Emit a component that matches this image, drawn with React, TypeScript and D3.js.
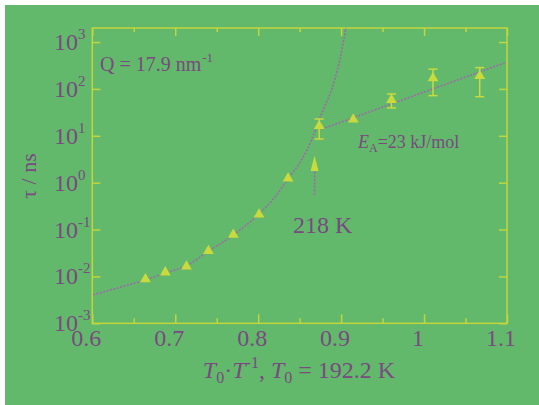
import React, { useEffect, useRef } from 'react';
import * as d3 from 'd3';

// measured points (T0/T, tau in ns)
const pointX = [0.664, 0.688, 0.7135, 0.74, 0.77, 0.801, 0.836, 0.8735, 0.9147, 0.9607, 1.0108, 1.0671];
const pointY = [0.0087, 0.01225, 0.0163, 0.0351, 0.0778, 0.21, 1.236, 16.2, 22.3, 58.2, 169, 190];
// error bars (index into points, low, high)
const errIndex = [7, 9, 10, 11];
const errLow = [8.55, 39.3, 71.9, 68.4];
const errHigh = [22.9, 78.2, 264, 285];

// VFT fit curve
const vftX = [0.601, 0.6334, 0.6643, 0.6876, 0.7135, 0.7394, 0.7695, 0.8008, 0.8201, 0.8358, 0.8542, 0.8643, 0.8704, 0.8783, 0.8884, 0.8984, 0.9057];
const vftY = [0.00406, 0.00587, 0.0085, 0.0117, 0.0169, 0.0337, 0.0759, 0.213, 0.492, 1.19, 3.52, 8.13, 15.4, 35.6, 95.2, 417, 2010];

// Arrhenius line
const arrX = [0.877, 1.0972];
const arrY = [13.97, 359.6];

// arrow marking 218 K
const arrowX = 0.868;
const arrowTail = 0.55;
const arrowBase = 1.77;
const arrowTip = 3.76;

const xTicks = [0.6, 0.7, 0.8, 0.9, 1, 1.1];
const xTickLabels = ['0.6', '0.7', '0.8', '0.9', '1', '1.1'];
const xMinor = [0.65, 0.75, 0.85, 0.95, 1.05];
const yExps = [-3, -2, -1, 0, 1, 2, 3];

const BG = '#62b96b';
const AXIS = '#c3d53c';
const MARK = '#c9da3c';
const LINE = '#a068aa';
const TEXT = '#7a4a80';
const FONT = '"Liberation Serif", "DejaVu Serif", serif';

const App = () => {
  const ref = useRef<SVGSVGElement>(null);

  useEffect(() => {
    const svg = d3.select(ref.current);
    svg.selectAll('*').remove();

    const x = d3.scaleLinear().domain([0.6, 1.1]).range([92.3, 507]);
    const y = d3.scaleLog().domain([1e-3, Math.pow(10, 3.3)]).range([323.3, 28]);
    const [x0, x1] = x.range();
    const [y0, y1] = y.range();

    svg.append('rect').attr('width', 539).attr('height', 405).attr('fill', '#fff');
    svg.append('rect').attr('x', 5).attr('y', 5).attr('width', 534).attr('height', 400).attr('fill', BG);

    const g = svg.append('g');

    // ticks
    const bottomMaj = d3.axisBottom(x).tickValues(xTicks).tickSize(-9).tickFormat(() => '');
    const bottomMin = d3.axisBottom(x).tickValues(xMinor).tickSize(-5).tickFormat(() => '');
    const topMaj = d3.axisTop(x).tickValues(xTicks).tickSize(-8).tickFormat(() => '');
    const topMin = d3.axisTop(x).tickValues(xMinor).tickSize(-4).tickFormat(() => '');
    const yVals = yExps.map(e => Math.pow(10, e));
    const left = d3.axisLeft(y).tickValues(yVals).tickSize(-8).tickFormat(() => '');
    const right = d3.axisRight(y).tickValues(yVals).tickSize(-8).tickFormat(() => '');

    const put = (axis: any, tx: number, ty: number) => {
      const a = g.append('g').attr('transform', `translate(${tx},${ty})`).call(axis);
      a.select('.domain').remove();
      a.selectAll('line').attr('stroke', AXIS).attr('stroke-width', 1.5);
    };
    put(bottomMaj, 0, y0);
    put(bottomMin, 0, y0);
    put(topMaj, 0, y1);
    put(topMin, 0, y1);
    put(left, x0, 0);
    put(right, x1, 0);

    g.append('rect')
      .attr('x', x0).attr('y', y1).attr('width', x1 - x0).attr('height', y0 - y1)
      .attr('fill', 'none').attr('stroke', AXIS).attr('stroke-width', 1.5);

    // x tick labels
    g.selectAll('.xl').data(xTicks).enter().append('text')
      .attr('x', d => x(d) - 6).attr('y', 346)
      .attr('text-anchor', 'middle').attr('font-family', FONT).attr('font-size', 24)
      .attr('fill', TEXT).text((d, i) => xTickLabels[i]);

    // y tick labels
    yExps.forEach(e => {
      const t = g.append('text').attr('x', 54).attr('y', y(Math.pow(10, e)) + 8)
        .attr('font-family', FONT).attr('font-size', 24).attr('fill', TEXT);
      t.append('tspan').text('10');
      t.append('tspan').attr('dx', 0).attr('dy', -11).attr('font-size', 15)
        .text(e < 0 ? '-' + Math.abs(e) : String(e));
    });

    // curves
    const line = d3.line<[number, number]>().x(d => x(d[0])).y(d => y(d[1])).curve(d3.curveMonotoneX);
    g.append('path').datum(vftX.map((v, i) => [v, vftY[i]] as [number, number]))
      .attr('d', line).attr('fill', 'none').attr('stroke', LINE)
      .attr('stroke-width', 1.6).attr('stroke-dasharray', '2 1.5');
    g.append('path').datum(arrX.map((v, i) => [v, arrY[i]] as [number, number]))
      .attr('d', d3.line<[number, number]>().x(d => x(d[0])).y(d => y(d[1])))
      .attr('fill', 'none').attr('stroke', LINE)
      .attr('stroke-width', 1.6).attr('stroke-dasharray', '2 1.5');

    // error bars
    errIndex.forEach((pi, k) => {
      const cx = x(pointX[pi]);
      const eb = g.append('g').attr('stroke', MARK).attr('stroke-width', 1.5);
      eb.append('line').attr('x1', cx).attr('x2', cx).attr('y1', y(errLow[k])).attr('y2', y(errHigh[k]));
      eb.append('line').attr('x1', cx - 4.5).attr('x2', cx + 4.5).attr('y1', y(errLow[k])).attr('y2', y(errLow[k]));
      eb.append('line').attr('x1', cx - 4.5).attr('x2', cx + 4.5).attr('y1', y(errHigh[k])).attr('y2', y(errHigh[k]));
    });

    // markers
    const tri = d3.symbol().type(d3.symbolTriangle).size(50);
    g.selectAll('.pt').data(pointX).enter().append('path')
      .attr('d', tri as any)
      .attr('transform', (d, i) => `translate(${x(d)},${y(pointY[i])})`)
      .attr('fill', MARK);

    // arrow
    const ax = x(arrowX);
    g.append('line').attr('x1', ax).attr('x2', ax).attr('y1', y(arrowTail)).attr('y2', y(arrowBase))
      .attr('stroke', LINE).attr('stroke-width', 1.6).attr('stroke-dasharray', '2 1.5');
    g.append('path')
      .attr('d', `M${ax},${y(arrowTip)}L${ax - 4},${y(arrowBase)}L${ax + 4},${y(arrowBase)}Z`)
      .attr('fill', MARK);

    // annotations
    const q = g.append('text').attr('x', 100).attr('y', 71)
      .attr('font-family', FONT).attr('font-size', 20).attr('fill', TEXT);
    q.append('tspan').text('Q = 17.9 nm');
    q.append('tspan').attr('dx', 1).attr('dy', -9).attr('font-size', 13).text('-1');

    const ea = g.append('text').attr('x', 358).attr('y', 148)
      .attr('font-family', FONT).attr('font-size', 18).attr('fill', TEXT);
    ea.append('tspan').attr('font-style', 'italic').text('E');
    ea.append('tspan').attr('dy', 4).attr('font-size', 12).text('A');
    ea.append('tspan').attr('dy', -4).text('=23 kJ/mol');

    g.append('text').attr('x', 293).attr('y', 233)
      .attr('font-family', FONT).attr('font-size', 24).attr('fill', TEXT).text('218 K');

    // axis titles
    const xt = g.append('text').attr('x', 299).attr('y', 378).attr('text-anchor', 'middle')
      .attr('font-family', FONT).attr('font-size', 24).attr('fill', TEXT);
    xt.append('tspan').attr('font-style', 'italic').text('T');
    xt.append('tspan').attr('dy', 5).attr('font-size', 16).text('0');
    xt.append('tspan').attr('dy', -5).text('·');
    xt.append('tspan').attr('font-style', 'italic').text('T');
    xt.append('tspan').attr('dy', -10).attr('font-size', 16).text('-1');
    xt.append('tspan').attr('dy', 10).text(', ');
    xt.append('tspan').attr('font-style', 'italic').text('T');
    xt.append('tspan').attr('dy', 5).attr('font-size', 16).text('0');
    xt.append('tspan').attr('dy', -5).text(' = 192.2 K');

    g.append('text').attr('transform', 'translate(36,176) rotate(-90)')
      .attr('text-anchor', 'middle').attr('font-family', FONT).attr('font-size', 22)
      .attr('fill', TEXT).text('τ / ns');
  }, []);

  return (
    <svg ref={ref} width={539} height={405} style={{ position: 'absolute', left: 0, top: 0 }} />
  );
};

export default App;
